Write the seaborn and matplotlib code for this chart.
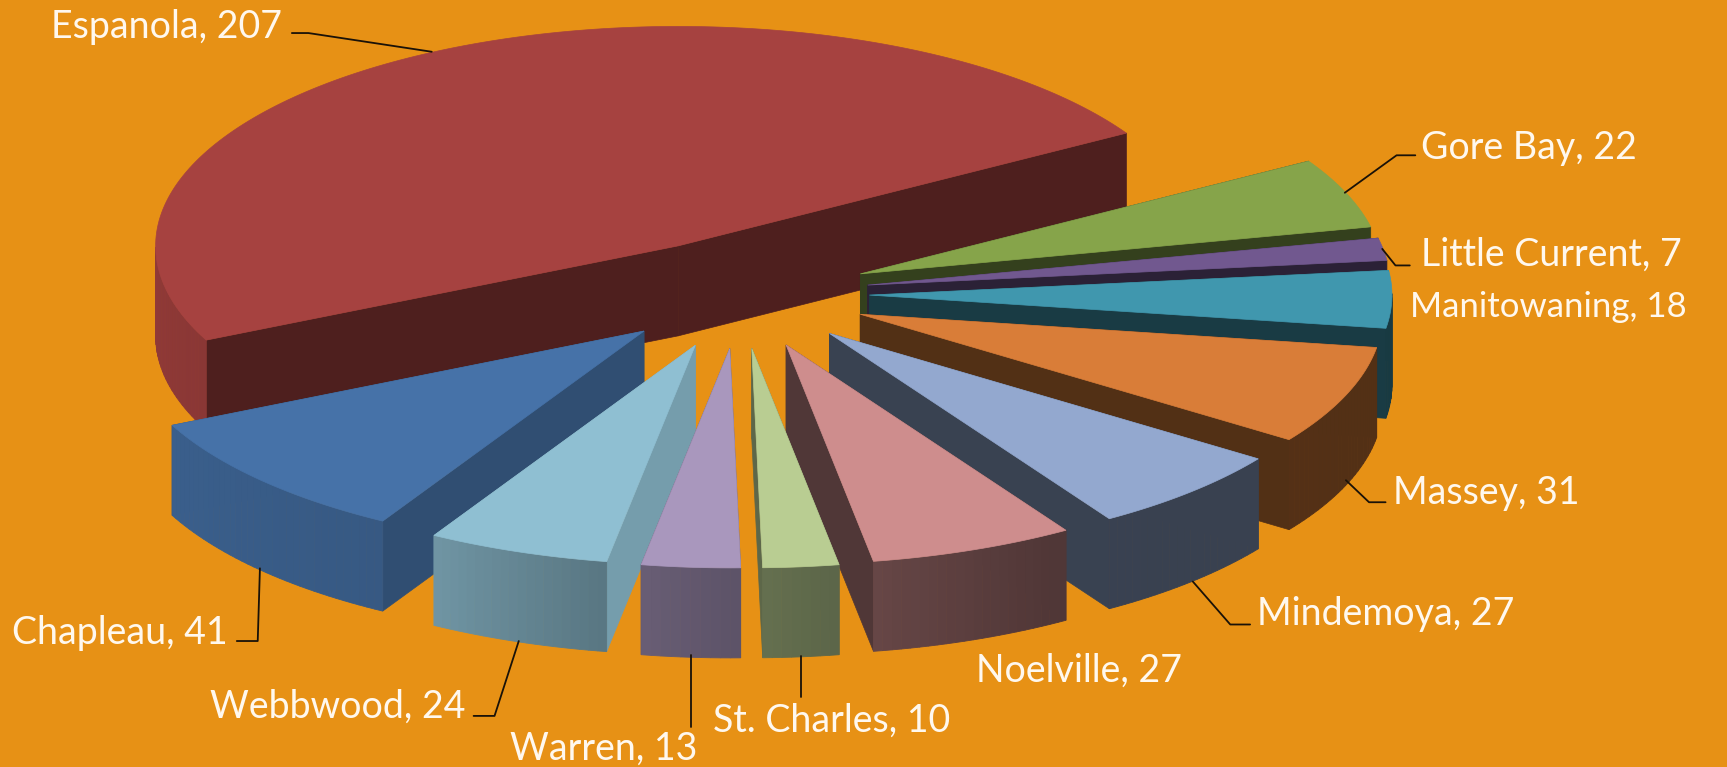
import numpy as np
import pandas as pd
import seaborn as sns
import matplotlib.pyplot as plt

# data, in the order the slices run clockwise from the first slice angle
towns = ['Chapleau', 'Espanola', 'Gore Bay', 'Little Current', 'Manitowaning', 'Massey',
         'Mindemoya', 'Noelville', 'St. Charles', 'Warren', 'Webbwood']
counts = [41, 207, 22, 7, 18, 31, 27, 27, 10, 13, 24]

top_colors = ['#4672a8', '#a64240', '#86a44a', '#71588f', '#4097ae', '#d97d38',
              '#93a8cf', '#ce8d8d', '#b9cd92', '#a997bd', '#8fbfd2']
cut_shade = [0.68, 0.47, 0.39, 0.38, 0.39, 0.38, 0.39, 0.39, 0.50, 0.55, 0.82]

# back to front
draw_order = ['Espanola', 'Gore Bay', 'Little Current', 'Manitowaning', 'Massey', 'Mindemoya',
              'Noelville', 'Chapleau', 'Webbwood', 'Warren', 'St. Charles']

BG = '#e79115'
CX, CY = 739.5, 294  # pie centre in pixels
RADIUS = 522.5
SQUASH = 0.42
EXPLODE = 130
DEPTH = 90
FIRST_ANGLE = -120  # math degrees, excel "first slice angle" of 210

k = 1727 / 1568  # leader points were read on the shrunk picture
leaders = [[(265, 30), (280, 30), (392, 47)],
           [(1285, 141), (1268, 141), (1221, 175)],
           [(1280, 241), (1267, 241), (1255, 226)],
           [(1258, 456), (1243, 456), (1222, 436)],
           [(1135, 567), (1117, 567), (1083, 528)],
           [(727, 596), (727, 633)],
           [(627, 595), (627, 660)],
           [(430, 650), (449, 650), (471, 582)],
           [(215, 582), (234, 582), (236, 516)]]
label_pos = {'Espanola': (51, 27), 'Gore Bay': (1421, 148), 'Little Current': (1421, 255),
             'Manitowaning': (1410, 307), 'Massey': (1393, 493), 'Mindemoya': (1257, 614),
             'Noelville': (976, 671), 'St. Charles': (713, 721), 'Warren': (510, 749),
             'Webbwood': (210, 707), 'Chapleau': (12, 633)}


def side_shade(angle):
    # outer wall gets lighter towards the left of the pie
    a = ((angle + 180) % 360) - 180
    if a > 90:
        return 0.87
    return np.interp(a, [-180, -120, -100, -85, -60, 0], [0.87, 0.78, 0.62, 0.52, 0.39, 0.38])


def project(apex, angle):
    rad = np.radians(angle)
    return apex[0] + RADIUS * np.cos(rad), apex[1] - RADIUS * SQUASH * np.sin(rad)


def draw_slice(ax, row, zorder):
    top = np.array(sns.color_palette([row.color])[0])
    mid = np.radians((row.start + row.end) / 2)
    apex = (CX + EXPLODE * np.cos(mid), CY - EXPLODE * SQUASH * np.sin(mid))
    angles = np.linspace(row.start, row.end, max(int(row.start - row.end), 2) + 1)
    rim = [project(apex, a) for a in angles]

    # the two cut faces
    for a in [row.start, row.end]:
        x, y = project(apex, a)
        quad = [apex, (x, y), (x, y + DEPTH), (apex[0], apex[1] + DEPTH)]
        c = top * row.cut
        ax.fill(*zip(*quad), color=c, lw=0.5, zorder=zorder)

    # outer wall, only the part that faces us, in thin strips for the gradient
    for a0, a1, p0, p1 in zip(angles[:-1], angles[1:], rim[:-1], rim[1:]):
        if np.sin(np.radians((a0 + a1) / 2)) > 0:
            continue
        quad = [p0, p1, (p1[0], p1[1] + DEPTH), (p0[0], p0[1] + DEPTH)]
        ax.fill(*zip(*quad), color=top * side_shade((a0 + a1) / 2), lw=0.6, zorder=zorder + 0.1)

    ax.fill(*zip(*([apex] + rim)), color=top, lw=0.5, zorder=zorder + 0.2)


df = pd.DataFrame({'town': towns, 'count': counts, 'color': top_colors, 'cut': cut_shade})
sweep = df['count'] / df['count'].sum() * 360
df['start'] = FIRST_ANGLE - sweep.cumsum().shift(fill_value=0)
df['end'] = df['start'] - sweep
df = df.set_index('town')

sns.set_theme(style='white')
plt.rcParams['font.family'] = ['Lato', 'DejaVu Sans']
fig = plt.figure(figsize=(17.27, 7.67), dpi=100, facecolor=BG)
ax = fig.add_axes([0, 0, 1, 1], facecolor=BG)
ax.set_xlim(0, 1727)
ax.set_ylim(767, 0)
ax.axis('off')

for i, town in enumerate(draw_order):
    draw_slice(ax, df.loc[town], 2 + i)

for pts in leaders:
    ax.plot([p[0] * k for p in pts], [p[1] * k for p in pts], color='#1a1208', lw=1.3, zorder=20)

for town, (x, y) in label_pos.items():
    size = 25 if town == 'Manitowaning' else 27
    ax.text(x, y, f'{town}, {df.loc[town, "count"]}', color='#fff8ee', fontsize=size, ha='left',
            va='center', zorder=21)

fig.savefig('out.png', dpi=100, facecolor=BG)
